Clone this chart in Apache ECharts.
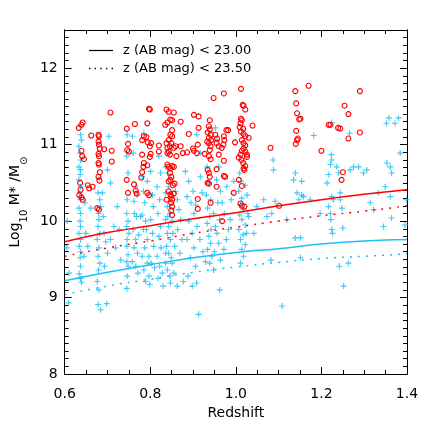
<!DOCTYPE html>
<html>
<head>
<meta charset="utf-8">
<script src="https://cdn.jsdelivr.net/npm/echarts@6/dist/echarts.min.js"></script>
<style>
  html, body { margin: 0; padding: 0; background: #fff; }
  #main { width: 436px; height: 436px; }
</style>
</head>
<body>
<div id="main"></div>
<script>
// magnitude limits for the legend
var legendNames = ['z (AB mag) < 23.00', 'z (AB mag) < 23.50'];

// limit curves, read at redshift steps of 0.1
var curveZ = [0.6, 0.7, 0.8, 0.9, 1.0, 1.1, 1.2, 1.3, 1.4];
var redSolid = [9.73, 9.85, 9.94, 10.03, 10.11, 10.20, 10.28, 10.35, 10.41];
var redDotted = [9.54, 9.65, 9.74, 9.84, 9.92, 10.00, 10.07, 10.13, 10.20];
var cyanSolid = [9.22, 9.33, 9.43, 9.52, 9.59, 9.64, 9.70, 9.74, 9.76];
var cyanDotted = [9.04, 9.15, 9.24, 9.33, 9.40, 9.46, 9.51, 9.54, 9.57];

var xTicks = [0.6, 0.8, 1.0, 1.2, 1.4];
var yTicks = [8, 9, 10, 11, 12];

// massive galaxies (red circles): [redshift, log mass]
var redPoints = [
  [0.633,11.22],[0.639,11.26],[0.642,11.29],[0.639,10.92],[0.641,10.85],[0.645,10.81],[0.636,10.50],[0.637,10.41],
  [0.634,10.34],[0.639,10.31],[0.642,10.28],[0.654,10.47],[0.657,10.43],[0.665,10.45],
  [0.662,11.12],[0.679,11.13],[0.680,11.11],[0.679,11.04],[0.680,11.00],[0.682,10.95],[0.679,10.88],[0.680,10.85],
  [0.679,10.76],[0.680,10.74],[0.682,10.64],[0.679,10.58],[0.681,10.53],[0.676,10.17],[0.680,10.15],[0.692,10.94],
  [0.710,10.92],[0.710,10.78],[0.707,11.42],
  [0.745,11.21],[0.748,11.01],[0.746,10.93],[0.750,10.91],[0.745,10.54],[0.748,10.37],[0.764,11.27],[0.762,10.48],
  [0.766,10.40],[0.768,10.36],[0.781,11.06],[0.785,11.11],[0.791,11.10],[0.794,11.03],[0.793,11.28],[0.797,11.47],
  [0.799,11.46],[0.781,10.87],[0.785,10.76],[0.784,10.71],[0.781,10.64],[0.779,10.57],[0.793,10.73],[0.799,10.84],
  [0.801,10.88],[0.799,10.98],[0.802,11.02],[0.793,10.37],[0.797,10.34],[0.820,10.99],[0.820,10.91],
  [0.838,11.46],[0.843,11.43],[0.855,11.42],[0.835,11.26],[0.840,11.29],[0.847,11.33],[0.851,11.32],[0.871,11.30],
  [0.851,11.19],[0.847,11.13],[0.851,11.11],[0.843,11.06],[0.849,11.02],[0.846,10.98],[0.838,11.02],[0.840,10.96],
  [0.843,10.91],[0.840,10.89],[0.846,10.87],[0.855,10.96],[0.859,10.98],[0.861,10.85],[0.840,10.74],[0.843,10.71],
  [0.847,10.69],[0.851,10.72],[0.855,10.71],[0.846,10.63],[0.849,10.58],[0.847,10.54],[0.843,10.52],[0.853,10.47],
  [0.857,10.49],[0.838,10.28],[0.843,10.39],[0.847,10.35],[0.849,10.32],[0.851,10.28],[0.849,10.24],[0.851,10.19],
  [0.849,10.14],[0.851,10.08],[0.855,10.36],[0.871,10.98],[0.876,10.89],
  [0.902,11.39],[0.913,11.37],[0.890,11.14],[0.913,11.22],[0.900,10.95],[0.902,10.92],[0.911,11.00],[0.909,10.89],
  [0.886,10.90],[0.911,10.29],[0.911,10.16],[0.927,10.88],
  [0.939,11.32],[0.937,11.24],[0.939,11.20],[0.934,11.16],[0.941,11.13],[0.937,11.09],[0.942,11.06],[0.937,11.02],
  [0.941,10.98],[0.939,10.93],[0.933,11.04],[0.948,11.61],[0.937,10.85],[0.941,10.81],[0.934,10.67],[0.937,10.63],
  [0.939,10.58],[0.934,10.50],[0.937,10.49],[0.941,10.24],[0.952,11.13],[0.956,11.08],[0.960,10.98],[0.955,11.02],
  [0.955,10.45],[0.955,10.68],[0.960,10.87],[0.972,11.67],[0.972,11.11],[0.973,11.06],[0.971,11.00],[0.967,10.96],
  [0.972,10.79],[0.972,10.59],[0.975,10.58],[0.978,11.19],[0.982,11.19],[0.968,10.00],[0.995,10.37],[0.998,11.03],
  [1.012,11.73],[1.016,11.52],[1.018,11.51],[1.022,11.46],[1.012,11.34],[1.014,11.32],[1.011,11.28],[1.009,11.23],
  [1.017,11.21],[1.012,11.17],[1.018,11.14],[1.022,11.11],[1.014,11.06],[1.018,11.02],[1.022,10.99],[1.018,10.95],
  [1.014,10.92],[1.022,10.91],[1.026,10.87],[1.011,10.87],[1.007,10.83],[1.013,10.80],[1.017,10.76],[1.022,10.72],
  [1.018,10.69],[1.020,10.67],[1.007,10.54],[1.014,10.46],[1.011,10.23],[1.014,10.20],[1.020,10.19],[1.030,11.09],
  [1.039,11.25],[1.026,10.84],
  [1.081,10.96],[1.101,10.20],[1.139,11.70],[1.141,11.54],[1.143,11.41],[1.148,11.33],[1.151,11.34],[1.141,11.18],
  [1.145,11.08],[1.143,11.06],[1.140,11.01],[1.170,11.77],[1.200,10.92],[1.217,11.26],[1.221,11.26],[1.239,11.22],
  [1.244,11.21],[1.254,11.51],[1.263,11.40],[1.263,11.08],[1.250,10.64],[1.247,10.54],[1.290,11.70],[1.290,11.16]
];

// all other galaxies (cyan crosses)
var cyanPoints = [
  [0.606,10.00],[0.610,9.32],[0.609,8.93],[0.605,9.65],
  [0.637,11.13],[0.639,11.06],[0.633,10.98],[0.636,10.89],[0.637,10.80],[0.633,10.71],[0.637,10.67],[0.636,10.61],
  [0.633,10.54],[0.637,10.45],[0.635,10.37],[0.637,10.28],[0.633,10.17],[0.637,10.10],[0.636,10.00],[0.637,9.93],
  [0.633,9.84],[0.637,9.76],[0.634,9.67],[0.637,9.60],[0.636,9.52],[0.637,9.41],[0.634,9.31],[0.637,9.25],
  [0.639,9.20],[0.649,9.84],[0.654,9.67],[0.647,10.24],[0.661,10.17],[0.645,9.54],
  [0.680,10.56],[0.678,10.37],[0.682,10.28],[0.679,10.10],[0.680,10.02],[0.678,9.93],[0.682,9.84],[0.676,9.76],
  [0.680,9.65],[0.678,9.54],[0.682,9.45],[0.679,9.36],[0.676,9.21],[0.680,9.10],[0.678,8.91],[0.684,8.84],
  [0.698,8.92],[0.703,11.11],[0.700,10.67],[0.707,10.50],[0.688,10.37],[0.684,10.19],[0.690,10.06],[0.692,9.84],
  [0.696,9.73],[0.707,9.76],[0.700,9.58],[0.693,9.41],[0.715,9.93],
  [0.723,10.19],[0.719,9.65],[0.731,9.49],[0.727,9.89],
  [0.746,11.13],[0.745,10.85],[0.748,10.63],[0.746,10.28],[0.745,10.10],[0.748,10.00],[0.745,9.93],[0.750,9.84],
  [0.746,9.76],[0.745,9.67],[0.748,9.56],[0.745,9.47],[0.748,9.41],[0.746,9.28],[0.745,9.12],[0.758,11.11],
  [0.760,10.89],[0.766,10.45],[0.770,10.34],[0.762,10.26],[0.763,10.10],[0.768,10.06],[0.760,9.89],[0.766,9.76],
  [0.762,9.65],[0.770,9.58],[0.758,9.47],[0.766,9.41],[0.771,9.32],[0.773,9.82],[0.777,10.06],
  [0.785,11.15],[0.781,10.58],[0.793,10.52],[0.784,10.39],[0.787,10.24],[0.781,10.08],[0.789,10.00],[0.784,9.89],
  [0.793,9.76],[0.787,9.65],[0.781,9.54],[0.793,9.45],[0.785,9.36],[0.797,9.28],[0.789,9.21],[0.799,9.17],
  [0.801,10.65],[0.805,10.34],[0.807,10.19],[0.801,10.02],[0.805,9.84],[0.808,9.67],[0.797,9.54],[0.802,9.45],
  [0.810,9.39],[0.791,9.89],
  [0.820,10.85],[0.824,10.63],[0.816,10.45],[0.822,10.28],[0.818,10.10],[0.824,9.93],[0.820,9.80],[0.825,9.65],
  [0.816,9.54],[0.822,9.41],[0.828,9.32],[0.818,9.25],[0.830,9.15],
  [0.836,10.71],[0.840,10.63],[0.843,10.45],[0.836,10.37],[0.840,10.19],[0.847,10.10],[0.836,10.02],[0.843,9.93],
  [0.840,9.84],[0.847,9.76],[0.838,9.67],[0.843,9.58],[0.849,9.52],[0.836,9.45],[0.840,9.36],[0.846,9.28],
  [0.836,9.58],[0.841,10.06],[0.851,10.00],[0.853,9.84],[0.857,9.67],[0.851,9.45],[0.847,9.19],[0.855,9.32],
  [0.859,10.39],[0.863,10.28],[0.867,10.15],[0.871,10.02],[0.864,9.89],[0.874,9.76],[0.869,9.58],[0.863,9.15],
  [0.877,9.21],
  [0.882,10.65],[0.890,10.52],[0.886,10.32],[0.895,10.24],[0.902,10.10],[0.890,10.00],[0.898,9.84],[0.886,9.76],
  [0.902,9.65],[0.894,9.52],[0.906,9.41],[0.888,9.28],[0.898,9.15],[0.913,8.78],[0.908,9.19],[0.900,10.39],
  [0.906,10.21],[0.909,9.93],[0.917,10.58],[0.921,10.37],[0.916,9.76],[0.923,9.60],[0.929,9.47],[0.909,11.13],
  [0.917,10.89],
  [0.933,10.71],[0.937,10.50],[0.931,10.34],[0.941,10.28],[0.934,10.17],[0.939,10.06],[0.933,9.97],[0.942,9.89],
  [0.937,9.80],[0.941,9.71],[0.934,9.63],[0.944,9.54],[0.939,9.45],[0.948,9.36],[0.952,11.22],[0.956,11.06],
  [0.960,10.71],[0.955,10.54],[0.964,10.39],[0.958,10.24],[0.948,10.10],[0.962,10.02],[0.952,9.93],[0.956,9.84],
  [0.960,9.71],[0.950,9.60],[0.964,9.49],[0.962,9.10],[0.968,10.24],[0.979,10.45],[0.973,10.10],[0.983,9.89],
  [0.978,9.76],[0.987,10.02],[0.972,9.63],[0.989,10.28],[0.995,10.52],
  [1.009,10.63],[1.012,10.52],[1.007,10.39],[1.014,10.30],[1.011,10.21],[1.018,10.15],[1.009,10.08],[1.014,10.02],
  [1.022,9.95],[1.007,9.89],[1.017,9.82],[1.011,9.76],[1.022,9.69],[1.014,9.63],[1.018,9.54],[1.026,10.34],
  [1.028,10.10],[1.025,9.84],[1.030,10.06],[1.011,9.45],[1.022,10.47],[1.042,9.84],[1.049,10.19],
  [1.065,10.28],[1.073,10.06],[1.084,10.10],[1.088,10.67],[1.087,10.80],[1.082,9.49],[1.108,8.89],[1.092,10.26],
  [1.119,10.02],[1.135,10.54],[1.139,10.63],[1.143,10.37],[1.147,10.28],[1.154,10.34],[1.139,9.78],[1.151,9.78],
  [1.154,10.52],[1.158,10.32],[1.151,9.52],[1.182,11.12],[1.174,10.28],[1.197,10.10],[1.213,10.50],[1.217,10.19],
  [1.221,10.10],[1.222,10.02],[1.224,9.89],[1.226,9.84],[1.223,10.87],[1.224,10.80],[1.221,10.74],[1.217,10.61],
  [1.224,10.32],[1.228,10.28],[1.236,10.71],[1.240,10.63],[1.244,10.37],[1.244,10.28],[1.248,10.17],[1.250,9.91],
  [1.242,9.41],[1.252,9.15],[1.263,9.45],[1.267,10.67],[1.266,11.15],[1.275,10.71],[1.287,10.71],[1.298,10.63],
  [1.306,10.67],[1.314,10.24],[1.322,10.15],[1.333,10.37],[1.345,9.93],[1.349,10.45],[1.353,10.76],[1.361,10.71],
  [1.364,10.63],[1.361,10.32],[1.364,10.04],[1.372,11.28],[1.380,11.35],[1.384,10.89],[1.395,9.95],[1.224,11.29],
  [1.399,10.28],[1.358,11.35],[1.352,11.28]
];

var RED = '#ff0000';
var CYAN = '#1cc0f6';
var FONT = 'DejaVu Sans';
var plusPath = 'path://M2.85,0H4.15V2.85H7V4.15H4.15V7H2.85V4.15H0V2.85H2.85Z';
var solidIcon = 'path://M0,0H24V1.2H0Z';
var dottedIcon = 'path://M0,0H1.2V1.2H0ZM5,0H6.2V1.2H5ZM10,0H11.2V1.2H10ZM15,0H16.2V1.2H15ZM20,0H21.2V1.2H20Z';

function pairs(xs, ys) {
  return xs.map(function (x, i) { return [x, ys[i]]; });
}
function isInt(v) {
  return Math.abs(v - Math.round(v)) < 1e-6;
}

var chart = echarts.init(document.getElementById('main'), null, { renderer: 'canvas' });

var axisLine = { show: true, lineStyle: { color: '#000', width: 1 } };

function xAx(pos, labels) {
  return {
    type: 'value', position: pos, min: 0.6, max: 1.4, interval: 0.2,
    axisLine: axisLine,
    axisTick: { show: true, inside: true, length: 7, lineStyle: { color: '#000' } },
    minorTick: { show: true, splitNumber: 4, length: 4, lineStyle: { color: '#000' } },
    splitLine: { show: false },
    axisLabel: {
      show: labels, color: '#000', fontFamily: FONT, fontSize: 14, margin: 13,
      formatter: function (v) { return v.toFixed(1); }
    },
    name: labels ? 'Redshift' : '', nameLocation: 'middle', nameGap: 32,
    nameTextStyle: { color: '#000', fontFamily: FONT, fontSize: 14 }
  };
}

// y axes: fine ticks every 0.1 plus a second axis drawing longer integer ticks
function yAx(pos, step, tickLen, labels) {
  return {
    type: 'value', position: pos, min: 8, max: 12.5, interval: step, offset: 0,
    axisLine: axisLine,
    axisTick: { show: true, inside: true, length: tickLen, lineStyle: { color: '#000' } },
    splitLine: { show: false },
    axisLabel: {
      show: labels, interval: 0, color: '#000', fontFamily: FONT, fontSize: 14, margin: 7,
      formatter: function (v) { return isInt(v) && yTicks.indexOf(Math.round(v)) >= 0 ? String(Math.round(v)) : ''; }
    },
    name: labels ? '{n|Log}{s|10}{n| M* /M}{s|⊙}' : '',
    nameLocation: 'middle', nameGap: 38,
    nameTextStyle: {
      color: '#000', fontFamily: FONT,
      rich: {
        n: { fontSize: 14, fontFamily: FONT, color: '#000', lineHeight: 20 },
        s: { fontSize: 10, fontFamily: FONT, color: '#000', lineHeight: 20, verticalAlign: 'bottom', padding: [0, 0, -4, 0] }
      }
    }
  };
}

var option = {
  backgroundColor: '#fff',
  animation: false,
  grid: { left: 64, right: 29, top: 30, bottom: 62 },
  legend: {
    orient: 'vertical', left: 84, top: 39, itemGap: 5,
    itemWidth: 24, itemHeight: 12,
    textStyle: { color: '#000', fontFamily: FONT, fontSize: 13, padding: [0, 0, 0, 5] },
    data: [
      { name: legendNames[0], icon: solidIcon, itemStyle: { color: '#000' } },
      { name: legendNames[1], icon: dottedIcon, itemStyle: { color: '#000' } }
    ]
  },
  xAxis: [xAx('bottom', true), xAx('top', false)],
  yAxis: [yAx('left', 0.1, 4, true), yAx('left', 1, 7, false), yAx('right', 0.1, 4, false), yAx('right', 1, 7, false)],
  series: [
    {
      type: 'scatter', name: 'others', data: cyanPoints,
      symbol: plusPath, symbolSize: 6,
      itemStyle: { color: CYAN, opacity: 0.85 }
    },
    {
      type: 'scatter', name: 'massive', data: redPoints,
      symbol: 'circle', symbolSize: 5,
      itemStyle: { color: 'rgba(255,255,255,0)', borderColor: RED, borderWidth: 1.1, opacity: 1 }
    },
    {
      type: 'line', name: 'red23', data: pairs(curveZ, redSolid), smooth: true,
      symbol: 'none', lineStyle: { color: RED, width: 1.5 }
    },
    {
      type: 'line', name: 'red235', data: pairs(curveZ, redDotted), smooth: true,
      symbol: 'none', lineStyle: { color: RED, width: 1.5, type: [2, 6] }
    },
    {
      type: 'line', name: 'cyan23', data: pairs(curveZ, cyanSolid), smooth: true,
      symbol: 'none', lineStyle: { color: CYAN, width: 1.5 }
    },
    {
      type: 'line', name: 'cyan235', data: pairs(curveZ, cyanDotted), smooth: true,
      symbol: 'none', lineStyle: { color: CYAN, width: 1.5, type: [2, 6] }
    },
    {
      type: 'line', name: legendNames[0], data: [], symbol: 'none',
      itemStyle: { color: '#000' }, lineStyle: { color: '#000', width: 1 }
    },
    {
      type: 'line', name: legendNames[1], data: [], symbol: 'none',
      itemStyle: { color: '#000' }, lineStyle: { color: '#000', width: 1, type: [1, 5] }
    }
  ]
};

chart.setOption(option);
</script>
</body>
</html>
